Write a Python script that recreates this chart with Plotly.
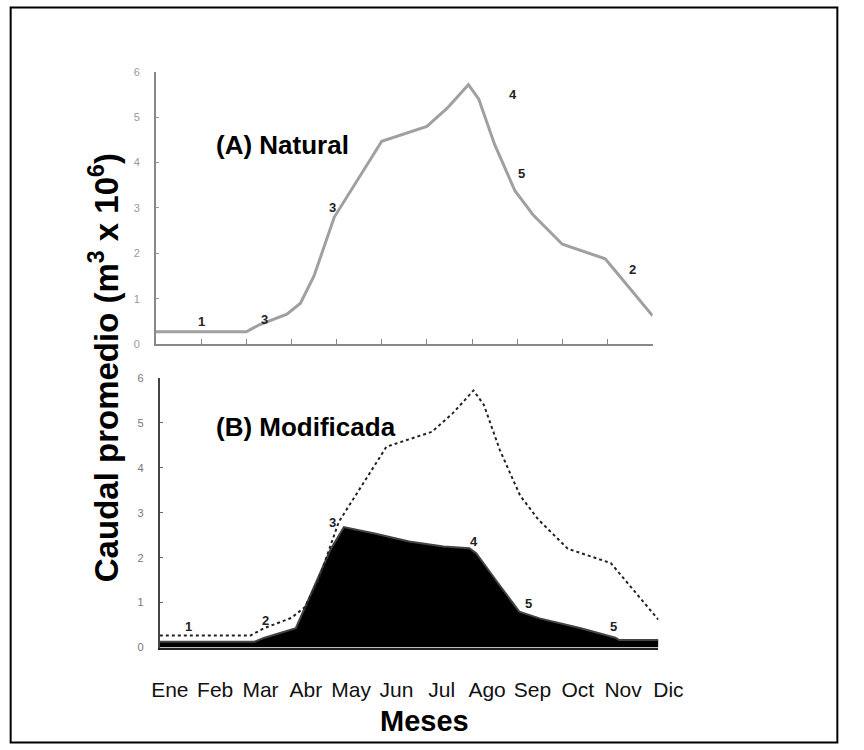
import plotly.graph_objects as go

# ---- data ----
months = ["Ene", "Feb", "Mar", "Abr", "May", "Jun", "Jul", "Ago", "Sep", "Oct", "Nov", "Dic"]
month_pos = list(range(12))
y_ticks = [0, 1, 2, 3, 4, 5, 6]

# Natural flow (month index position, flow m3 x 10^6)
nat_x = [0, 2.0, 2.3, 2.9, 3.2, 3.5, 3.95, 4.4, 4.8, 5.0, 5.4, 6.0, 6.45, 6.92, 7.15, 7.5, 7.95, 8.35, 9.0, 9.4, 9.95, 10.35, 11.0]
nat_y = [0.27, 0.27, 0.43, 0.66, 0.9, 1.5, 2.8, 3.5, 4.15, 4.47, 4.6, 4.8, 5.2, 5.72, 5.4, 4.4, 3.38, 2.85, 2.2, 2.06, 1.88, 1.4, 0.62]

# Modified flow
mod_x = [0, 2.09, 2.31, 3.0, 3.38, 3.76, 4.06, 4.74, 5.5, 6.26, 6.83, 6.98, 7.4, 7.93, 8.38, 9.29, 10.05, 10.13, 11.0]
mod_y = [0.13, 0.13, 0.22, 0.43, 1.30, 2.17, 2.68, 2.54, 2.36, 2.25, 2.21, 2.10, 1.52, 0.80, 0.65, 0.43, 0.22, 0.17, 0.17]

# small point labels on the curves
top_lab_x = [1.0, 2.4, 3.9, 7.9, 8.1, 10.55]
top_lab_y = [0.5, 0.55, 3.0, 5.5, 3.76, 1.64]
top_lab_t = ["1", "3", "3", "4", "5", "2"]
bot_lab_x = [0.64, 2.34, 3.82, 6.94, 8.13, 10.0]
bot_lab_y = [0.48, 0.61, 2.78, 2.35, 0.99, 0.48]
bot_lab_t = ["1", "2", "3", "4", "5", "5"]

W, H = 864, 750
def fx(px):
    return px / W
def fy(py):
    return 1 - py / H

FONT = "Liberation Sans, Arial, sans-serif"

fig = go.Figure()

# top panel: natural
fig.add_trace(go.Scatter(x=nat_x, y=nat_y, mode="lines", xaxis="x", yaxis="y",
                         line=dict(color="#a0a0a0", width=3), showlegend=False, hoverinfo="skip"))
# bottom panel: modified (filled) and natural (dotted)
fig.add_trace(go.Scatter(x=mod_x, y=mod_y, mode="lines", xaxis="x2", yaxis="y2",
                         fill="tozeroy", fillcolor="#000000",
                         line=dict(color="#444444", width=2), showlegend=False, hoverinfo="skip"))
fig.add_trace(go.Scatter(x=nat_x, y=nat_y, mode="lines", xaxis="x2", yaxis="y2",
                         line=dict(color="#222222", width=2, dash="dot"), showlegend=False, hoverinfo="skip"))

annotations = []
for x, y, t in zip(top_lab_x, top_lab_y, top_lab_t):
    annotations.append(dict(x=x, y=y, xref="x", yref="y", text="<b>" + t + "</b>", showarrow=False,
                            font=dict(family=FONT, size=13, color="#222222")))
for x, y, t in zip(bot_lab_x, bot_lab_y, bot_lab_t):
    annotations.append(dict(x=x, y=y, xref="x2", yref="y2", text="<b>" + t + "</b>", showarrow=False,
                            font=dict(family=FONT, size=13, color="#222222")))

annotations += [
    dict(x=fx(213), y=fy(141), xref="paper", yref="paper", xanchor="left", yanchor="middle",
         text="<b>(A) Natural</b>", showarrow=False, font=dict(family=FONT, size=26, color="#000")),
    dict(x=fx(213), y=fy(428), xref="paper", yref="paper", xanchor="left", yanchor="middle",
         text="<b>(B) Modificada</b>", showarrow=False, font=dict(family=FONT, size=26, color="#000")),
    dict(x=fx(433), y=fy(727), xref="paper", yref="paper", xanchor="center", yanchor="middle",
         text="<b>Meses</b>", showarrow=False, font=dict(family=FONT, size=29, color="#000")),
    dict(x=fx(99), y=fy(368), xref="paper", yref="paper", xanchor="center", yanchor="middle",
         text="<b>Caudal promedio (m<sup>3</sup> x 10<sup>6</sup>)</b>", textangle=-90,
         showarrow=False, font=dict(family=FONT, size=33, color="#000")),
]

fig.update_layout(
    width=W, height=H,
    margin=dict(l=0, r=0, t=0, b=0),
    paper_bgcolor="white", plot_bgcolor="white",
    font=dict(family=FONT),
    xaxis=dict(domain=[fx(153), fx(670)], range=[0, 11], anchor="y",
               tickvals=month_pos, showticklabels=False, ticks="inside", ticklen=5,
               tickcolor="#888", showline=True, linecolor="#888", linewidth=2,
               showgrid=False, zeroline=False, fixedrange=True),
    yaxis=dict(domain=[fy(343.5), fy(67)], range=[0, 6], anchor="x",
               tickvals=y_ticks, ticks="inside", ticklen=3, tickcolor="#999",
               ticklabelstandoff=12,
               tickfont=dict(family=FONT, size=11, color="#999"),
               showline=True, linecolor="#888", linewidth=2,
               showgrid=False, zeroline=False, fixedrange=True),
    xaxis2=dict(domain=[fx(157), fx(676)], range=[0, 11], anchor="y2",
                tickvals=month_pos, ticktext=months, ticks="", ticklabelstandoff=22,
                ticklabelshift=10,
                tickfont=dict(family=FONT, size=21, color="#111"),
                showline=True, linecolor="#222", linewidth=2,
                showgrid=False, zeroline=False, fixedrange=True),
    yaxis2=dict(domain=[fy(652), fy(378)], range=[0, 6], anchor="x2",
                tickvals=y_ticks, ticks="inside", ticklen=3, tickcolor="#666",
                ticklabelstandoff=12,
                tickfont=dict(family=FONT, size=11, color="#777"),
                showline=True, linecolor="#444", linewidth=2,
                showgrid=False, zeroline=False, fixedrange=True),
    annotations=annotations,
    shapes=[dict(type="rect", xref="paper", yref="paper", x0=0.002, x1=0.998, y0=0.002, y1=0.998,
                 line=dict(color="#000", width=2))],
)

fig.write_html("out.html")
